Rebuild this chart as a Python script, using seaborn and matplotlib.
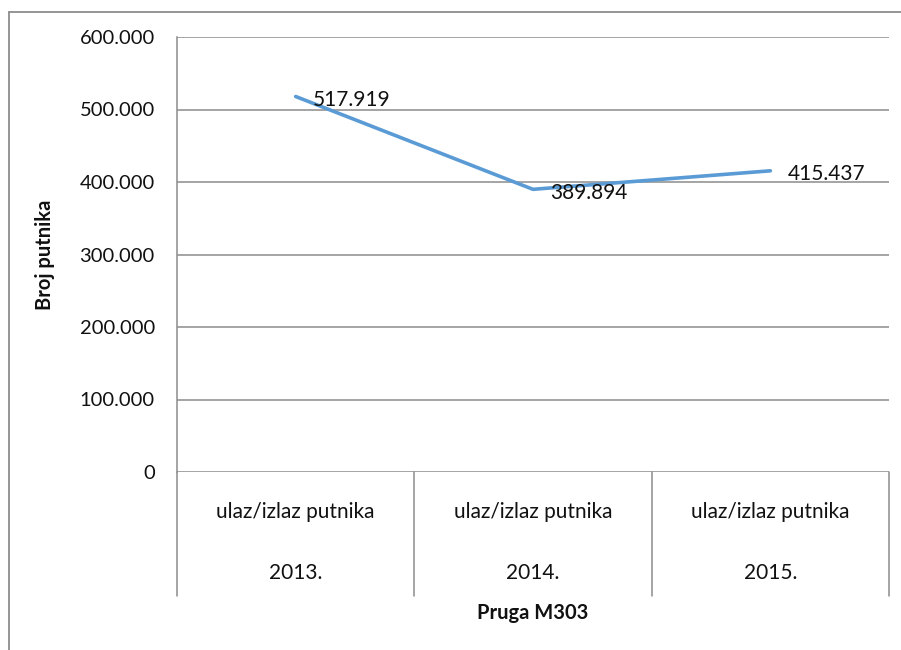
import matplotlib
matplotlib.use("Agg")
import matplotlib.pyplot as plt
from matplotlib.lines import Line2D
import seaborn as sns
import pandas as pd

# Passenger counts on line M303
years = ["2013.", "2014.", "2015."]
category = ["ulaz/izlaz putnika", "ulaz/izlaz putnika", "ulaz/izlaz putnika"]
passengers = [517919, 389894, 415437]
value_labels = ["517.919", "389.894", "415.437"]
yticks = [0, 100000, 200000, 300000, 400000, 500000, 600000]
ytick_labels = ["0", "100.000", "200.000", "300.000", "400.000", "500.000", "600.000"]

sns.set_theme(style="white")
plt.rcParams["font.family"] = ["Lato", "DejaVu Sans"]

GRID = "#8c8c8c"
LINE = "#5b9bd5"
TEXT = "#111111"

df = pd.DataFrame({"pos": range(len(years)), "value": passengers})

fig = plt.figure(figsize=(9.01, 6.5), dpi=100)
ax = fig.add_axes([177 / 901, 1 - 472 / 650, 712 / 901, 435 / 650])

sns.lineplot(data=df, x="pos", y="value", ax=ax, color=LINE, linewidth=2.6)

ax.set_xlim(-0.5, len(years) - 0.5)
ax.set_ylim(0, 600000)
ax.set_yticks(yticks)
ax.set_yticklabels(ytick_labels, fontsize=14.5, color=TEXT)
ax.tick_params(axis="y", length=0, pad=16)
ax.set_xticks([])
ax.set_xlabel("")
ax.set_ylabel("")

for y in yticks:
    ax.axhline(y, color=GRID, linewidth=1.1, zorder=0)

for side in ["top", "right", "bottom"]:
    ax.spines[side].set_visible(False)
ax.spines["left"].set_color(GRID)
ax.spines["left"].set_linewidth(1.1)

# value labels to the right of each point
for i, (v, lab) in enumerate(zip(passengers, value_labels)):
    ax.annotate(lab, (i, v), xytext=(12.5, -2.5), textcoords="offset points",
                ha="left", va="center", fontsize=15, color=TEXT)

# multi-level category axis with separators
xt = ax.get_xaxis_transform()
for b in [-0.5 + k for k in range(len(years) + 1)]:
    ax.plot([b, b], [0, -0.285], transform=xt, color=GRID, linewidth=1.1,
            clip_on=False)
for i, (c, yr) in enumerate(zip(category, years)):
    ax.text(i, -0.092, c, transform=xt, ha="center", va="center",
            fontsize=15, color=TEXT)
    ax.text(i, -0.232, yr, transform=xt, ha="center", va="center",
            fontsize=15, color=TEXT)

ax.text(0.5, -0.324, "Pruga M303", transform=ax.transAxes, ha="center",
        va="center", fontsize=14.5, fontweight="bold", color=TEXT)
fig.text(45 / 901, 1 - 255 / 650, "Broj putnika", rotation=90, ha="center",
         va="center", fontsize=14.5, fontweight="bold", color=TEXT)

# chart frame
fig.add_artist(Line2D([9 / 901, 1.0], [1 - 12 / 650] * 2, transform=fig.transFigure,
                      color=GRID, linewidth=1.3))
fig.add_artist(Line2D([9 / 901] * 2, [0.0, 1 - 12 / 650], transform=fig.transFigure,
                      color=GRID, linewidth=1.3))

fig.savefig("out.png", dpi=100)
